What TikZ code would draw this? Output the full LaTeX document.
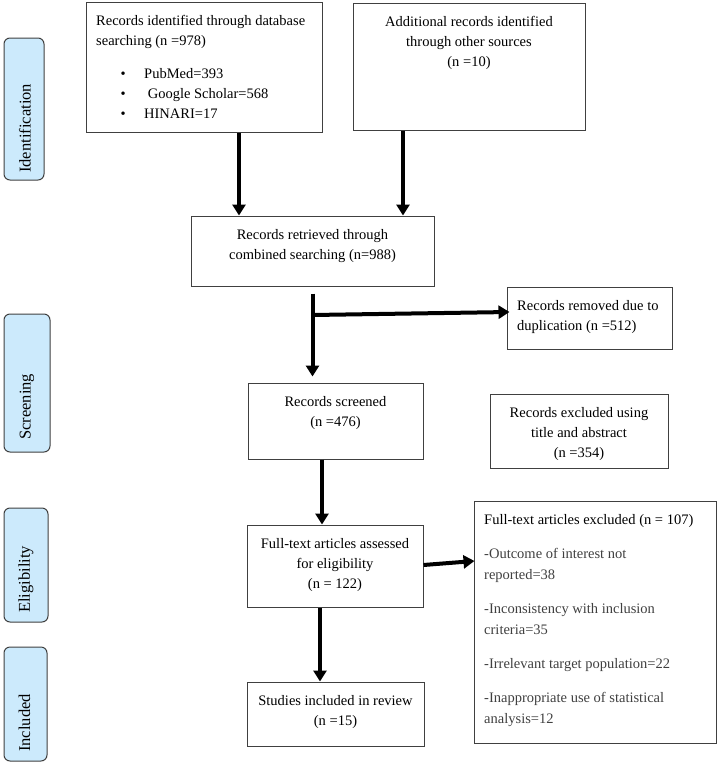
\documentclass[tikz,border=0pt]{standalone}
\usepackage{fontspec}
\setmainfont{Liberation Serif}
\usetikzlibrary{arrows.meta}
\definecolor{sidefill}{RGB}{204,234,252}
\definecolor{boxline}{RGB}{64,64,64}
\definecolor{listgray}{RGB}{64,64,64}
\begin{document}
\begin{tikzpicture}[x=1pt,y=-1pt,
  box/.style={draw=boxline, line width=1pt, rectangle, inner sep=0pt},
  side/.style={draw=boxline, line width=1pt, fill=sidefill, rounded corners=6pt, inner sep=0pt},
  txt/.style={inner sep=0pt, font=\fontsize{14.5}{20}\selectfont},
  listtxt/.style={inner sep=0pt, font=\fontsize{14.5}{21}\selectfont},
  sidetxt/.style={inner sep=0pt, rotate=90, anchor=west, font=\fontsize{16.5}{20}\selectfont},
  flow/.style={line width=4pt, -{Triangle[width=13pt,length=11pt]}},
]
\useasboundingbox (0,0) rectangle (718,764);

% side labels
\node[side, minimum width=40pt, minimum height=142pt] (s1) at (24,109) {};
\node[sidetxt] (l1) at (25,173) {Identification};
\node[side, minimum width=46pt, minimum height=138pt] (s2) at (27,383) {};
\node[sidetxt] (l2) at (27,440) {Screening};
\node[side, minimum width=44pt, minimum height=114pt] (s3) at (26,565) {};
\node[sidetxt] (l3) at (26,613) {Eligibility};
\node[side, minimum width=43pt, minimum height=114pt] (s4) at (25.5,704) {};
\node[sidetxt] (l4) at (24.5,752) {Included};

% boxes
\node[box, minimum width=236pt, minimum height=130pt] (b1) at (204,67) {};
\node[box, minimum width=232pt, minimum height=127pt] (b2) at (469,66.5) {};
\node[box, minimum width=243pt, minimum height=70pt] (b3) at (312.5,251) {};
\node[box, minimum width=165pt, minimum height=62pt] (b5) at (589.5,318) {};
\node[box, minimum width=175pt, minimum height=76pt] (b4) at (335.5,421) {};
\node[box, minimum width=178pt, minimum height=74pt] (b6) at (579,431) {};
\node[box, minimum width=176pt, minimum height=82pt] (b7) at (335,566) {};
\node[box, minimum width=242pt, minimum height=242pt] (b8) at (595,622) {};
\node[box, minimum width=177pt, minimum height=64pt] (b9) at (335.5,714) {};

% texts
\node[txt, anchor=north west, align=left] (t1) at (96,15) {Records identified through database\\
searching (n =978)\\[13pt]
\hspace*{24.5pt}\makebox[23.5pt][l]{•}PubMed=393\\
\hspace*{24.5pt}\makebox[23.5pt][l]{•}\ Google Scholar=568\\
\hspace*{24.5pt}\makebox[23.5pt][l]{•}HINARI=17};
\node[txt, anchor=north, align=center] (t2) at (469,16) {Additional records identified\\through other sources\\(n =10)};
\node[txt, anchor=north, align=center] (t3) at (312.5,229) {Records retrieved through\\combined searching (n=988)};
\node[txt, anchor=north west, align=left] (t5) at (517,300) {Records removed due to\\duplication (n =512)};
\node[txt, anchor=north, align=center] (t4) at (335.5,396) {Records screened\\(n =476)};
\node[txt, anchor=north, align=center] (t6) at (579,407) {Records excluded using\\title and abstract\\(n =354)};
\node[txt, anchor=north, align=center] (t7) at (335,538) {Full-text articles assessed\\for eligibility\\(n = 122)};
\node[txt, anchor=north, align=center] (t9) at (335.5,695) {Studies included in review\\(n =15)};
\node[listtxt, anchor=north west, align=left] (t8) at (484,514) {Full-text articles excluded (n = 107)\\[13pt]
\textcolor{listgray}{-Outcome of interest not}\\
\textcolor{listgray}{reported=38}\\[13pt]
\textcolor{listgray}{-Inconsistency with inclusion}\\
\textcolor{listgray}{criteria=35}\\[13pt]
\textcolor{listgray}{-Irrelevant target population=22}\\[13pt]
\textcolor{listgray}{-Inappropriate use of statistical}\\
\textcolor{listgray}{analysis=12}};

% connectors
\coordinate (br) at (312.5,315);
\draw[flow] ([xshift=35pt]b1.south) -- ([xshift=-73.5pt]b3.north);
\draw[flow] ([xshift=-66pt]b2.south) -- ([xshift=90.5pt]b3.north);
\draw[line width=4pt] ([yshift=-7pt]b3.south) -- (br);
\draw[flow] (br) -- ([xshift=-23pt, yshift=6pt]b4.north);
\draw[flow] (br) -- ([xshift=3pt, yshift=6pt]b5.west);
\draw[flow] ([xshift=-13.5pt]b4.south) -- ([xshift=-13pt]b7.north);
\draw[flow] ([yshift=1pt]b7.east) -- ([xshift=1pt, yshift=61pt]b8.west);
\draw[flow] ([xshift=-15pt]b7.south) -- ([xshift=-15.5pt]b9.north);
\end{tikzpicture}
\end{document}
